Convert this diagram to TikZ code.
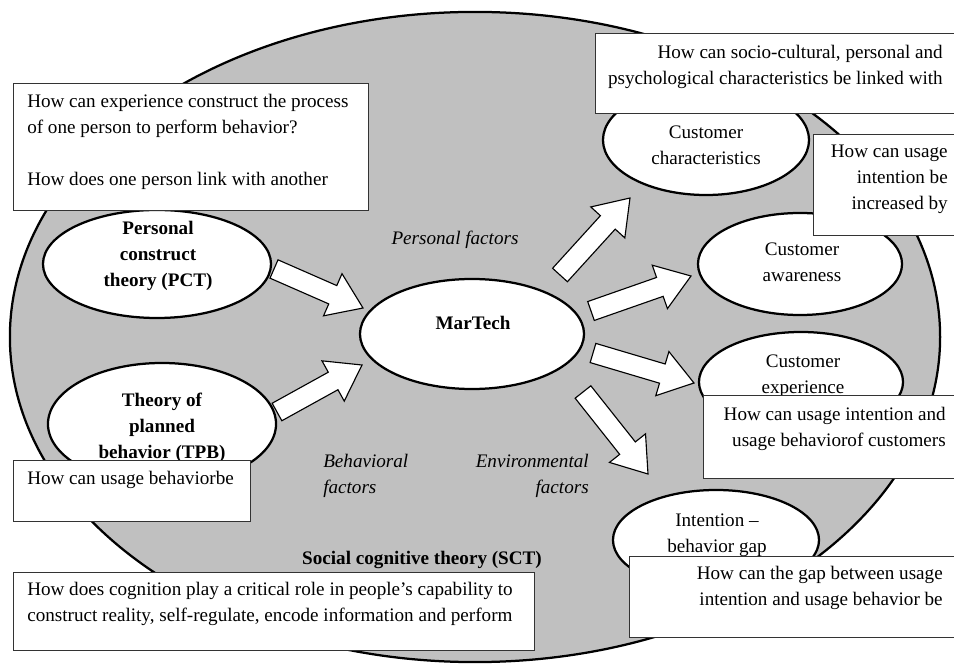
\documentclass[tikz,border=0pt]{standalone}
\usepackage{fontspec}
\setmainfont{Liberation Serif}
\usepackage{tikz}
\usetikzlibrary{positioning,calc,shapes.geometric}
\definecolor{sctgray}{RGB}{192,192,192}
\newcommand{\figfont}{\fontsize{13.6}{18.6}\selectfont}
\newcommand{\blockarrow}[2]{%
	\coordinate (hb) at ($(#2)!8.25mm!(#1)$);
	\draw [fatarrow] ($(#1)!2.5mm!90:(#2)$) -- ($(hb)!2.5mm!-90:(#1)$) -- ($(hb)!5.75mm!-90:(#1)$) -- (#2) -- ($(hb)!5.75mm!90:(#1)$) -- ($(hb)!2.5mm!90:(#1)$) -- ($(#1)!2.5mm!-90:(#2)$) -- cycle;}
\begin{document}
\begin{tikzpicture}[x=0.025cm,y=-0.025cm]
		\tikzstyle{oval} = [shape=ellipse, draw=black, line width=1.6pt, fill=white, inner sep=0]
		\tikzstyle{box} = [draw=black!80, line width=0.8pt, fill=white, anchor=north west, inner sep=0]
		\tikzstyle{fatarrow} = [draw=black, line width=0.8pt, fill=white, line join=miter]
		\tikzstyle{txt} = [inner sep=0, font=\figfont, align=center]
		\tikzstyle{boldtxt} = [txt, font=\figfont\bfseries]
		\tikzstyle{ittxt} = [txt, font=\figfont\itshape]
		\useasboundingbox (0,0) rectangle (954,668);
		\clip (0,0) rectangle (954,668);
		\node [oval, fill=sctgray, minimum width=23.25cm, minimum height=16.25cm] (v0) at (475,337) {};
		\node [oval, minimum width=5.7cm, minimum height=2.7cm] (v1) at (157,264) {};
		\node [oval, minimum width=5.7cm, minimum height=3.05cm] (v2) at (162,424) {};
		\node [oval, minimum width=5.6cm, minimum height=2.75cm] (v3) at (472,334) {};
		\node [oval, minimum width=5.15cm, minimum height=2.75cm] (v4) at (706,140) {};
		\node [oval, minimum width=5.1cm, minimum height=2.55cm] (v5) at (800,264) {};
		\node [oval, minimum width=5.1cm, minimum height=2.5cm] (v6) at (801,382) {};
		\node [oval, minimum width=5.15cm, minimum height=2.5cm] (v7) at (716,540) {};
		\node [boldtxt] (v1t) at (158,256) {Personal\\construct\\theory (PCT)};
		\node [boldtxt] (v2t) at (162,428) {Theory of\\planned\\behavior (TPB)};
		\node [boldtxt] (v3t) at (473,323) {MarTech};
		\node [txt] (v4t) at (706,145) {Customer\\characteristics};
		\node [txt] (v5t) at (802,262) {Customer\\awareness};
		\node [txt] (v6t) at (803,376) {Customer\\experience};
		\node [txt] (v7t) at (717,535) {Intention --\\behavior gap};
		\node [ittxt] (f1) at (455,240) {Personal factors};
		\node [ittxt, anchor=west, align=left] (f2) at (323,476) {Behavioral\\factors};
		\node [ittxt, anchor=east, align=right] (f3) at (589,476) {Environmental\\factors};
		\node [boldtxt] (f4) at (422,560) {Social cognitive theory (SCT)};
		\coordinate (a1) at (274,269);
		\coordinate (b1) at (363,308);
		\coordinate (a2) at (277,412);
		\coordinate (b2) at (362,365);
		\coordinate (a3) at (560,275);
		\coordinate (b3) at (630,198);
		\coordinate (a4) at (591,311);
		\coordinate (b4) at (691,276);
		\coordinate (a5) at (593,353);
		\coordinate (b5) at (694,383);
		\coordinate (a6) at (583,392);
		\coordinate (b6) at (648,474);
		\blockarrow{a1}{b1}
		\blockarrow{a2}{b2}
		\blockarrow{a3}{b3}
		\blockarrow{a4}{b4}
		\blockarrow{a5}{b5}
		\blockarrow{a6}{b6}
		\node [box, minimum width=8.875cm, minimum height=3.175cm] (q1) at (13,83) {};
		\node [box, minimum width=9.25cm, minimum height=2cm] (q2) at (595,33) {};
		\node [box, minimum width=3.8cm, minimum height=2.525cm] (q3) at (813,134) {};
		\node [box, minimum width=6.55cm, minimum height=2.075cm] (q4) at (703,395) {};
		\node [box, minimum width=8.4cm, minimum height=2.025cm] (q5) at (629,556) {};
		\node [box, minimum width=5.925cm, minimum height=1.525cm] (q6) at (13,460) {};
		\node [box, minimum width=13.025cm, minimum height=1.95cm] (q7) at (13,572) {};
		\node [txt, anchor=west, align=left] (q1t) at (27,142) {How can experience construct the process\\of one person to perform behavior?\\[18.6pt]How does one person link with another};
		\node [txt, anchor=east, align=right] (q2t) at (943,67) {How can socio-cultural, personal and\\psychological characteristics be linked with};
		\node [txt, anchor=east, align=right] (q3t) at (948,179) {How can usage\\intention be\\increased by};
		\node [txt, anchor=east, align=right] (q4t) at (946,429) {How can usage intention and\\usage behaviorof customers};
		\node [txt, anchor=east, align=right] (q5t) at (943,588) {How can the gap between usage\\intention and usage behavior be};
		\node [txt, anchor=west, align=left] (q6t) at (27,480) {How can usage behaviorbe};
		\node [txt, anchor=west, align=left] (q7t) at (27,604) {How does cognition play a critical role in people’s capability to\\construct reality, self-regulate, encode information and perform};
\end{tikzpicture}
\end{document}
